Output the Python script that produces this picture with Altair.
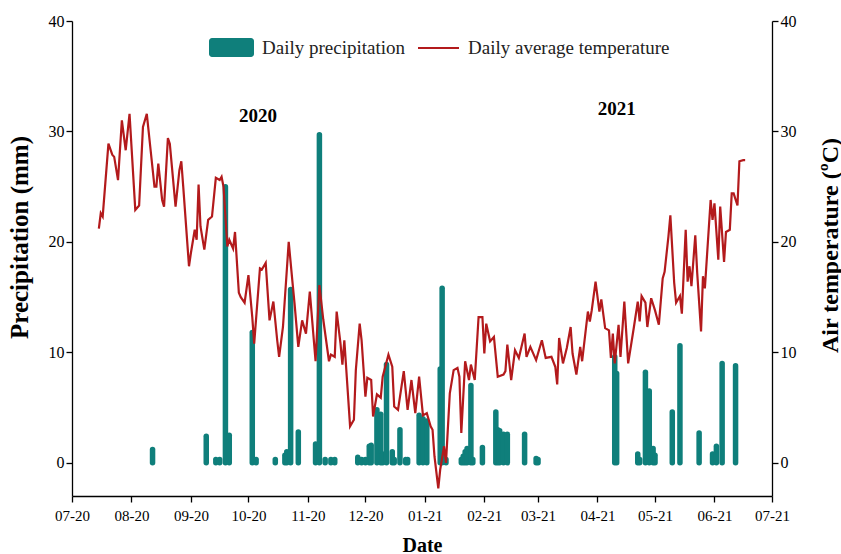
import altair as alt
import pandas as pd

# ---- daily precipitation (mm) ----
rain_dates = [
    "2020-08-12", "2020-09-09", "2020-09-14", "2020-09-16", "2020-09-19", "2020-09-21",
    "2020-10-03", "2020-10-05", "2020-10-15", "2020-10-20", "2020-10-21", "2020-10-23",
    "2020-10-27", "2020-11-05", "2020-11-07", "2020-11-10", "2020-11-13", "2020-11-15",
    "2020-11-27", "2020-11-29", "2020-12-01", "2020-12-03", "2020-12-04", "2020-12-07",
    "2020-12-09", "2020-12-10", "2020-12-12", "2020-12-15", "2020-12-16", "2020-12-19",
    "2020-12-22", "2020-12-23", "2020-12-29", "2020-12-31", "2021-01-02", "2021-01-09",
    "2021-01-10", "2021-01-12", "2021-01-20", "2021-01-21", "2021-01-22", "2021-01-23",
    "2021-01-25", "2021-01-26", "2021-01-31", "2021-02-07", "2021-02-08", "2021-02-09",
    "2021-02-11", "2021-02-13", "2021-02-22", "2021-02-28", "2021-03-01", "2021-04-10",
    "2021-04-11", "2021-04-22", "2021-04-23", "2021-04-26", "2021-04-28", "2021-04-30",
    "2021-05-01", "2021-05-10", "2021-05-14", "2021-05-24", "2021-05-31", "2021-06-02",
    "2021-06-05", "2021-06-12",
]
rain_mm = [
    1.2, 2.4, 0.3, 0.3, 25.0, 2.5,
    11.8, 0.3, 0.3, 0.7, 1.0, 15.7,
    2.8, 1.7, 29.7, 0.3, 0.3, 0.3,
    0.5, 0.3, 0.3, 1.5, 1.6, 4.8,
    4.4, 0.8, 8.9, 1.0, 0.3, 3.0,
    0.3, 0.3, 4.3, 4.0, 3.8, 8.5,
    15.8, 0.3, 0.3, 0.6, 1.0, 1.3,
    7.0, 0.3, 1.4, 4.6, 3.0, 2.9,
    2.6, 2.6, 2.6, 0.4, 0.3, 9.6,
    8.1, 0.8, 0.3, 8.2, 6.5, 1.3,
    0.7, 4.6, 10.6, 2.7, 0.8, 1.5,
    9.0, 8.8,
]

# ---- daily average air temperature (degC) ----
temp_dates = [
    "2020-07-15", "2020-07-16", "2020-07-17", "2020-07-20", "2020-07-22", "2020-07-23",
    "2020-07-25", "2020-07-27", "2020-07-29", "2020-07-31", "2020-08-03", "2020-08-05",
    "2020-08-07", "2020-08-09", "2020-08-11", "2020-08-13", "2020-08-14", "2020-08-15",
    "2020-08-17", "2020-08-18", "2020-08-20", "2020-08-21", "2020-08-24", "2020-08-26",
    "2020-08-27", "2020-08-28", "2020-08-31", "2020-09-01", "2020-09-03", "2020-09-04",
    "2020-09-05", "2020-09-06", "2020-09-08", "2020-09-10", "2020-09-12", "2020-09-14",
    "2020-09-16", "2020-09-17", "2020-09-18", "2020-09-20", "2020-09-21", "2020-09-23",
    "2020-09-24", "2020-09-26", "2020-09-27", "2020-09-29", "2020-10-01", "2020-10-03",
    "2020-10-04", "2020-10-07", "2020-10-08", "2020-10-10", "2020-10-12", "2020-10-14",
    "2020-10-16", "2020-10-17", "2020-10-19", "2020-10-22", "2020-10-24", "2020-10-25",
    "2020-10-27", "2020-10-29", "2020-10-31", "2020-11-02", "2020-11-05", "2020-11-07",
    "2020-11-09", "2020-11-12", "2020-11-13", "2020-11-15", "2020-11-16", "2020-11-18",
    "2020-11-19", "2020-11-20", "2020-11-23", "2020-11-25", "2020-11-26", "2020-11-28",
    "2020-11-29", "2020-12-01", "2020-12-02", "2020-12-04", "2020-12-05", "2020-12-07",
    "2020-12-09", "2020-12-10", "2020-12-13", "2020-12-15", "2020-12-16", "2020-12-18",
    "2020-12-21", "2020-12-23", "2020-12-25", "2020-12-27", "2020-12-29", "2020-12-31",
    "2021-01-02", "2021-01-04", "2021-01-05", "2021-01-06", "2021-01-08", "2021-01-09",
    "2021-01-11", "2021-01-12", "2021-01-14", "2021-01-16", "2021-01-18", "2021-01-19",
    "2021-01-20", "2021-01-22", "2021-01-24", "2021-01-25", "2021-01-27", "2021-01-29",
    "2021-01-31", "2021-02-01", "2021-02-02", "2021-02-04", "2021-02-06", "2021-02-08",
    "2021-02-11", "2021-02-12", "2021-02-13", "2021-02-15", "2021-02-17", "2021-02-19",
    "2021-02-22", "2021-02-23", "2021-02-25", "2021-02-28", "2021-03-03", "2021-03-05",
    "2021-03-08", "2021-03-10", "2021-03-11", "2021-03-12", "2021-03-14", "2021-03-16",
    "2021-03-18", "2021-03-19", "2021-03-21", "2021-03-23", "2021-03-24", "2021-03-27",
    "2021-03-28", "2021-03-29", "2021-03-31", "2021-04-02", "2021-04-03", "2021-04-05",
    "2021-04-07", "2021-04-08", "2021-04-09", "2021-04-10", "2021-04-12", "2021-04-13",
    "2021-04-15", "2021-04-17", "2021-04-20", "2021-04-22", "2021-04-23", "2021-04-24",
    "2021-04-26", "2021-04-27", "2021-04-29", "2021-05-01", "2021-05-03", "2021-05-05",
    "2021-05-06", "2021-05-08", "2021-05-09", "2021-05-11", "2021-05-12", "2021-05-14",
    "2021-05-15", "2021-05-17", "2021-05-18", "2021-05-19", "2021-05-20", "2021-05-22",
    "2021-05-23", "2021-05-25", "2021-05-26", "2021-05-27", "2021-05-30", "2021-05-31",
    "2021-06-01", "2021-06-03", "2021-06-04", "2021-06-06", "2021-06-07", "2021-06-09",
    "2021-06-10", "2021-06-11", "2021-06-13", "2021-06-14", "2021-06-16", "2021-06-17",
]
temp_c = [
    21.2, 22.6, 22.3, 28.9, 27.9, 27.7,
    25.6, 31.0, 28.3, 31.6, 22.9, 23.3,
    30.4, 31.6, 28.3, 25.0, 25.0, 27.1,
    23.8, 23.2, 29.4, 28.9, 23.2, 26.5,
    27.3, 25.0, 17.8, 19.0, 21.1, 20.2,
    25.2, 21.4, 19.3, 22.0, 22.3, 25.8,
    25.6, 25.9, 25.0, 19.6, 20.2, 19.4,
    20.9, 15.4, 15.0, 14.5, 17.0, 13.2,
    10.8, 17.6, 17.5, 18.1, 12.9, 14.6,
    11.1, 9.6, 12.3, 20.0, 16.3, 14.5,
    10.5, 12.9, 11.7, 15.5, 9.2, 16.1,
    13.0, 9.2, 9.8, 9.6, 13.7, 10.8,
    8.9, 11.1, 3.3, 3.9, 8.4, 12.6,
    11.1, 6.0, 7.7, 7.5, 4.2, 6.2,
    5.9, 7.8, 9.8, 8.7, 5.1, 4.8,
    8.3, 4.8, 7.5, 4.5, 7.8, 4.3,
    4.5, 3.3, 3.0, 0.6, -2.3, -0.6,
    1.5, 0.0, 6.3, 8.4, 8.6, 7.8,
    2.7, 9.2, 7.5, 8.9, 7.5, 13.2,
    13.2, 9.9, 12.6, 11.0, 11.4, 7.8,
    8.0, 8.3, 10.7, 7.5, 10.2, 9.5,
    11.7, 9.6, 10.5, 9.3, 11.1, 9.5,
    9.6, 8.7, 7.1, 11.3, 9.0, 10.4,
    12.3, 9.9, 8.0, 10.5, 9.2, 13.7,
    12.8, 13.8, 16.4, 13.7, 14.8, 12.2,
    12.0, 9.5, 11.7, 9.0, 12.5, 9.6,
    14.6, 9.0, 12.3, 14.6, 12.8, 15.1,
    14.5, 12.3, 14.9, 13.8, 12.5, 16.7,
    17.3, 20.5, 22.4, 16.3, 14.5, 15.1,
    13.5, 21.1, 16.4, 17.8, 16.0, 20.6,
    17.2, 11.9, 16.9, 15.8, 23.8, 22.0,
    23.5, 18.4, 23.2, 18.2, 20.9, 21.1,
    24.4, 24.4, 23.3, 27.3, 27.4, 27.4,
]

# ---- year annotations ----
year_labels = ["2020", "2021"]
year_label_dates = ["2020-10-06", "2021-04-11"]
year_label_levels = [31.4, 32.0]

legend_labels = ["Daily precipitation", "Daily average temperature"]

TEAL = "#0f7f7b"
RED = "#b31a1c"
FONT = "Liberation Serif"

rain_df = pd.DataFrame({"date": rain_dates, "precip": rain_mm})
temp_df = pd.DataFrame({"date": temp_dates, "temp": temp_c})
year_df = pd.DataFrame({"date": year_label_dates, "level": year_label_levels, "label": year_labels})
one_row = pd.DataFrame({"k": [0]})

month_ticks = [
    alt.DateTime(year=2020 + (m - 1) // 12, month=(m - 1) % 12 + 1, date=1, utc=True)
    for m in range(7, 20)
]
x_scale = alt.Scale(type="utc", domain=[month_ticks[0], month_ticks[-1]], nice=False)
x_enc = alt.X(
    "date:T",
    scale=x_scale,
    axis=alt.Axis(
        values=month_ticks, format="%m-%y", title="Date",
        labelFontSize=15, titleFontSize=20, titlePadding=12, labelPadding=6,
        labelFlush=False, labelOverlap=False, labelBound=False,
    ),
)

y_scale = alt.Scale(domain=[-3, 40], nice=False, zero=False)

left_axis = alt.Axis(
    orient="left", values=[0, 10, 20, 30, 40], title="Precipitation (mm)",
    titlePadding=16, titleFontSize=25, titleY=216,
)
right_axis = alt.Axis(
    orient="right", values=[0, 10, 20, 30, 40], title="Air temperature (ºC)",
    titleAngle=270, titlePadding=46, titleFontSize=24, titleY=224,
)

bars = alt.Chart(rain_df).mark_rule(
    color=TEAL, strokeWidth=5.5, strokeCap="round"
).encode(
    x=x_enc,
    y=alt.Y("precip:Q", scale=y_scale, axis=left_axis),
    y2=alt.datum(0),
)

line = alt.Chart(temp_df).mark_line(color=RED, strokeWidth=2.2).encode(
    x=x_enc,
    y=alt.Y("temp:Q", scale=y_scale, axis=right_axis),
)

years = alt.Chart(year_df).mark_text(
    font=FONT, fontSize=19, fontWeight="bold", color="black"
).encode(
    x=x_enc,
    y=alt.Y("level:Q", scale=y_scale, axis=None),
    text="label:N",
)

# legend drawn along the top of the plot
leg_rect = alt.Chart(one_row).mark_rect(color=TEAL, cornerRadius=3).encode(
    x=alt.value(137), x2=alt.value(182), y=alt.value(17), y2=alt.value(36)
)
leg_text1 = alt.Chart(one_row).mark_text(
    align="left", baseline="middle", font=FONT, fontSize=19, color="#222"
).encode(x=alt.value(190), y=alt.value(27), text=alt.value(legend_labels[0]))
leg_line = alt.Chart(one_row).mark_rule(color=RED, strokeWidth=2.2).encode(
    x=alt.value(346), x2=alt.value(387), y=alt.value(27)
)
leg_text2 = alt.Chart(one_row).mark_text(
    align="left", baseline="middle", font=FONT, fontSize=19, color="#222"
).encode(x=alt.value(396), y=alt.value(27), text=alt.value(legend_labels[1]))

chart = alt.layer(
    bars, line, years, leg_rect, leg_text1, leg_line, leg_text2
).resolve_scale(
    y="independent"
).properties(
    width=700, height=475,
    autosize=alt.AutoSizeParams(type="none"),
    padding={"left": 72, "top": 21, "right": 69, "bottom": 58},
    background="white",
).configure_view(
    stroke=None
).configure_axis(
    labelFont=FONT, titleFont=FONT, labelFontSize=16, titleFontSize=22,
    titleFontWeight="bold", labelColor="black", titleColor="black",
    domainColor="black", tickColor="black", domainWidth=1.3, tickWidth=1.3,
    tickSize=6, grid=False,
)

chart.save("out.html", embed_options={"renderer": "svg", "actions": False})
